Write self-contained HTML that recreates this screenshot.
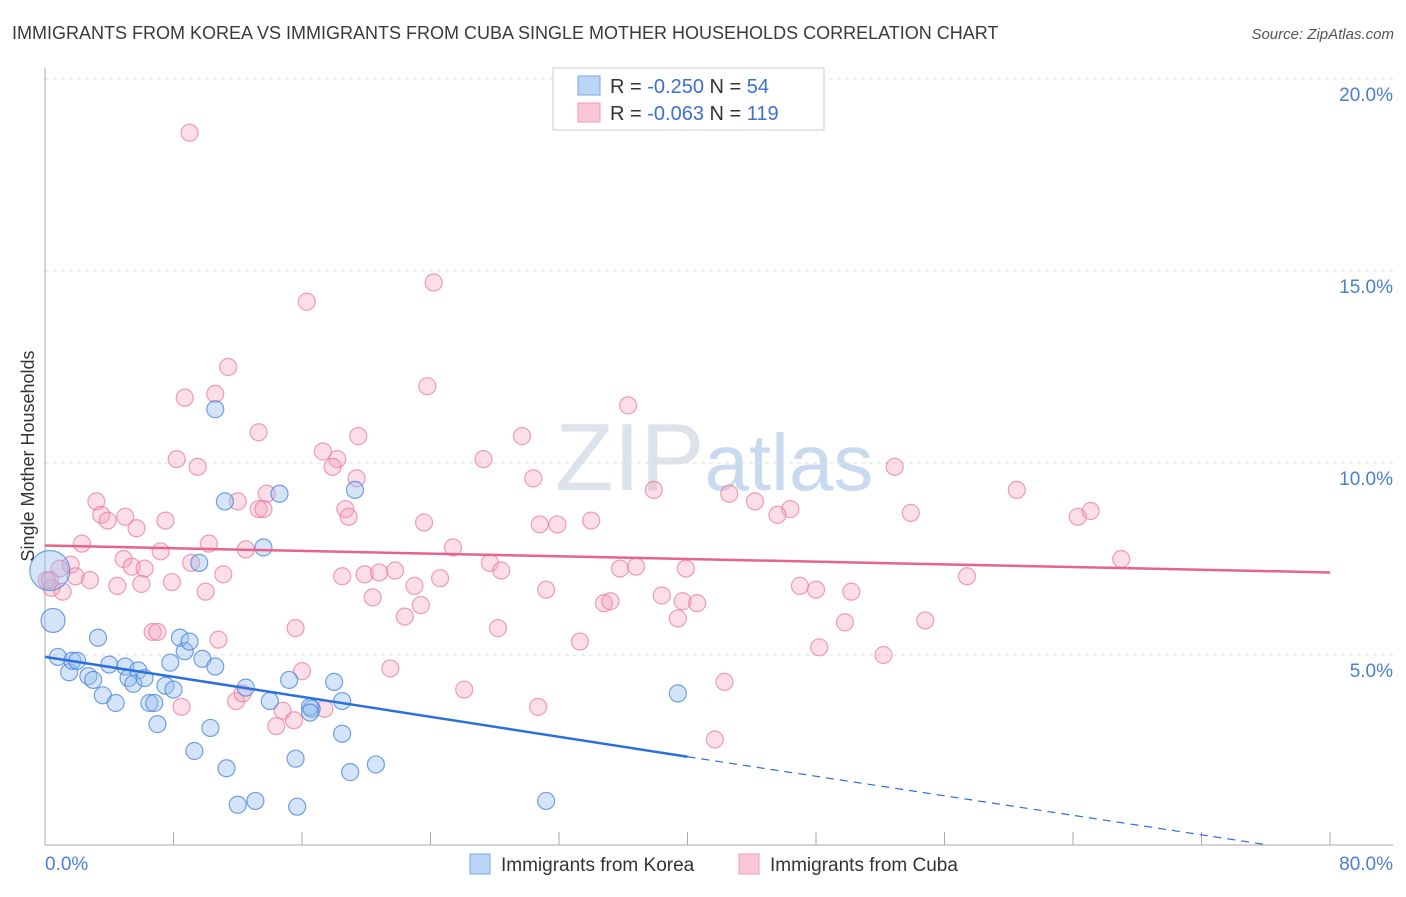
<!DOCTYPE html>
<html><head><meta charset="utf-8"><style>
body{margin:0;background:#fff;font-family:"Liberation Sans",sans-serif;}
svg text{font-family:"Liberation Sans",sans-serif;}
</style></head><body>
<svg id="chart" width="1406" height="892" xmlns="http://www.w3.org/2000/svg">
<text x="12" y="39" font-size="18" fill="#3a3a3a">IMMIGRANTS FROM KOREA VS IMMIGRANTS FROM CUBA SINGLE MOTHER HOUSEHOLDS CORRELATION CHART</text>
<text x="1394" y="39" font-size="15" fill="#555" text-anchor="end" font-style="italic">Source: ZipAtlas.com</text>
<text x="555" y="490" font-size="96" fill="#dde3ea" font-family="Liberation Serif">ZIP<tspan fill="#c9daf0" font-family="Liberation Sans" font-size="80">atlas</tspan></text>
<g id="grid"></g>
<g id="axes"></g>
<g id="pts"></g>
<g id="lines"></g>
<text transform="translate(34,456) rotate(-90)" font-size="18" fill="#333" text-anchor="middle">Single Mother Households</text>
<g>
<rect x="553" y="68" width="271" height="62" fill="#fff" stroke="#ccc"/>
<rect x="578" y="76" width="22" height="19" fill="#bcd4f5" stroke="#7aa6e6"/>
<rect x="578" y="103" width="22" height="19" fill="#fac7d6" stroke="#f09ab5"/>
<text x="610" y="93" font-size="20" fill="#333">R = <tspan fill="#3a70d0">-0.250</tspan>   N = <tspan fill="#3a70d0"> 54</tspan></text>
<text x="610" y="120" font-size="20" fill="#333">R = <tspan fill="#3a70d0">-0.063</tspan>   N = <tspan fill="#3a70d0">119</tspan></text>
</g>
<g>
<rect x="470" y="854" width="20" height="20" fill="#bcd4f5" stroke="#7aa6e6"/>
<text x="501" y="871" font-size="19" fill="#333">Immigrants from Korea</text>
<rect x="739" y="854" width="20" height="20" fill="#fac7d6" stroke="#f09ab5"/>
<text x="770" y="871" font-size="19" fill="#333">Immigrants from Cuba</text>
</g>
</svg>
<script>
const yTicks=[5,10,15,20];
const yTickLabels=["5.0%","10.0%","15.0%","20.0%"];
const xTickLabels=["0.0%","80.0%"];
const koreaX=[0.3,0.5,3.3,0.8,1.5,1.7,2.0,2.7,3.0,3.6,4.4,4.0,5.0,5.2,5.8,5.5,6.2,6.5,6.8,7.0,7.5,8.0,7.8,8.4,8.7,9.0,9.8,9.3,10.3,11.3,12.0,13.1,12.5,14.0,15.2,15.6,15.7,16.6,16.5,18.0,18.5,18.5,19.0,20.6,19.3,11.2,13.6,10.6,31.2,39.4,9.6,16.5,10.6,14.6];
const koreaY=[7.2,5.9,5.45,4.95,4.55,4.85,4.85,4.45,4.35,3.95,3.75,4.75,4.7,4.4,4.6,4.25,4.4,3.75,3.75,3.2,4.2,4.1,4.8,5.45,5.1,5.35,4.9,2.5,3.1,2.05,1.1,1.2,4.15,3.8,4.35,2.3,1.05,3.6,3.65,4.3,3.8,2.95,1.95,2.15,9.3,9.0,7.8,11.4,1.2,4.0,7.4,3.5,4.7,9.2];
const koreaR=[20,12];
const cubaX=[9.0,16.3,24.2,11.4,23.8,8.7,10.6,36.3,13.3,19.5,29.7,8.2,9.5,17.3,18.2,17.9,52.9,27.3,30.4,19.4,13.8,3.2,12.0,37.9,42.6,44.2,60.5,3.5,5.0,3.9,5.7,7.5,13.3,13.6,18.7,18.9,23.6,30.8,31.9,34.0,46.4,45.6,53.9,64.3,65.1,2.3,10.2,12.5,7.2,25.4,67.0,4.9,9.1,1.6,0.9,1.9,0.1,0.4,1.1,2.8,4.5,5.4,6.2,11.1,6.0,10.0,7.9,18.5,19.9,20.8,21.8,23.0,24.6,27.7,28.4,31.2,35.8,36.8,39.9,47.0,48.0,50.2,57.4,20.4,23.4,22.4,34.8,35.2,38.4,39.7,40.6,39.4,15.6,28.2,49.8,54.8,6.7,7.0,10.8,33.3,48.2,52.2,16.0,21.5,26.1,42.3,8.5,11.9,12.3,14.8,14.4,15.5,17.4,30.7,41.7,0.3];
const cubaY=[18.6,14.2,14.7,12.5,12.0,11.7,11.8,11.5,10.8,10.7,10.7,10.1,9.9,10.3,10.1,9.9,9.9,10.1,9.6,9.6,9.2,9.0,9.0,9.3,9.2,9.0,9.3,8.65,8.6,8.5,8.3,8.5,8.8,8.8,8.8,8.6,8.45,8.4,8.4,8.5,8.8,8.65,8.7,8.6,8.75,7.9,7.9,7.75,7.7,7.8,7.5,7.5,7.4,7.35,7.25,7.05,6.95,6.75,6.65,6.95,6.8,7.3,7.25,7.1,6.85,6.65,6.9,7.05,7.1,7.15,7.2,6.8,7.0,7.4,7.2,6.7,7.25,7.3,7.25,6.8,6.7,6.65,7.05,6.5,6.3,6.0,6.35,6.4,6.55,6.4,6.35,5.95,5.7,5.7,5.85,5.9,5.6,5.6,5.4,5.35,5.2,5.0,4.58,4.65,4.1,4.3,3.65,3.8,4.0,3.55,3.15,3.3,3.6,3.65,2.8,6.95];
const koreaLine=[[0,4.95],[40,2.35]];
const koreaDash=[[40,2.35],[76.2,0.05]];
const cubaLine=[[0,7.85],[80,7.15]];

const NS="http://www.w3.org/2000/svg";
const X0=45,X1=1330,XMAX=80,Y0=847,YPX=38.4;
function sx(v){return X0+v/XMAX*(X1-X0);}
function sy(v){return Y0-v*YPX;}
function mk(tag,attrs,parent){const e=document.createElementNS(NS,tag);for(const k in attrs)e.setAttribute(k,attrs[k]);parent.appendChild(e);return e;}
const grid=document.getElementById('grid'),axes=document.getElementById('axes'),pts=document.getElementById('pts'),lines=document.getElementById('lines');
yTicks.forEach((t,i)=>{
 const l=mk('line',{x1:X0,x2:1393,y1:sy(t),y2:sy(t),stroke:'#ddd','stroke-dasharray':'4,4'},grid);
 
 
 const tx=mk('text',{x:1393,y:sy(t)+22,'font-size':19,fill:'#4a7fd4','text-anchor':'end'},axes);
 tx.textContent=yTickLabels[i];
 
 
});
const ya=mk('line',{x1:X0,x2:X0,y1:68,y2:845,stroke:'#aaa'},axes);


const xa=mk('line',{x1:X0,x2:1393,y1:845,y2:845,stroke:'#aaa'},axes);


for(let i=0;i<=10;i++){
 const t=mk('line',{x1:sx(i*8),x2:sx(i*8),y1:832,y2:845,stroke:'#aaa'},axes);
 
 
}
[[0,'start',45],[1,'end',1393]].forEach(([i,a,x])=>{
 const tx=mk('text',{x:x,y:870,'font-size':19,fill:'#4a7fd4','text-anchor':a},axes);
 tx.textContent=xTickLabels[i];
 
 
});
cubaX.forEach((x,i)=>{
 const c=mk('circle',{cx:sx(x),cy:sy(cubaY[i]),r:8.5,fill:'rgba(244,160,185,0.35)',stroke:'rgba(232,120,155,0.7)','stroke-width':1.2},pts);
 
 
});
koreaX.forEach((x,i)=>{
 const c=mk('circle',{cx:sx(x),cy:sy(koreaY[i]),r:koreaR[i]||8.5,fill:'rgba(150,190,240,0.4)',stroke:'rgba(70,130,220,0.75)','stroke-width':1.2},pts);
 
 
});
function ln(p,col,dash,name){
 const l=mk('line',{x1:sx(p[0][0]),y1:sy(p[0][1]),x2:sx(p[1][0]),y2:sy(p[1][1]),stroke:col,'stroke-width':dash?1.2:2.5},lines);
 if(dash)l.setAttribute('stroke-dasharray','8,6');
 
 
}
ln(cubaLine,'#e8628e',false,'cuba-trend-line');
ln(koreaLine,'#2a6fdb',false,'korea-trend-line');
ln(koreaDash,'#2a6fdb',true,'korea-trend-extension');
</script>
</body></html>
